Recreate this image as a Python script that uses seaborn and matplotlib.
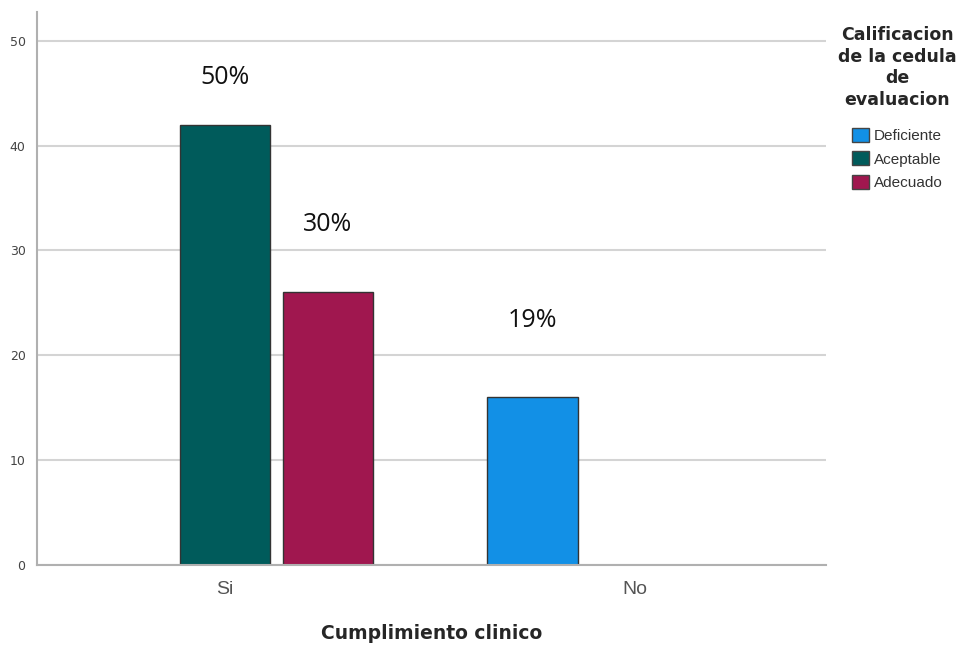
import seaborn as sns
import matplotlib.pyplot as plt
import pandas as pd

# datos
cumplimiento = ['Si', 'Si', 'No']
calificacion = ['Aceptable', 'Adecuado', 'Deficiente']
frecuencia = [42, 26, 16]
porcentajes = ['50%', '30%', '19%']

orden_cumplimiento = ['Si', 'No']
orden_calificacion = ['Deficiente', 'Aceptable', 'Adecuado']
colores = {'Deficiente': '#1290e6', 'Aceptable': '#005b5b', 'Adecuado': '#a0174f'}

df = pd.DataFrame({'cumplimiento': cumplimiento,
                   'calificacion': calificacion,
                   'frecuencia': frecuencia,
                   'porcentaje': porcentajes})

sns.set_style('white')
plt.rcParams['font.family'] = ['DejaVu Sans']

fig = plt.figure(figsize=(9.66, 6.46), dpi=100)
ax = fig.add_axes([0.038, 0.125, 0.817, 0.856])

sns.barplot(data=df, x='cumplimiento', y='frecuencia', hue='calificacion',
            order=orden_cumplimiento, hue_order=orden_calificacion,
            palette=colores, width=0.75, gap=0.12, edgecolor='#333333',
            linewidth=1, saturation=1, ax=ax)

ax.set_xlim(-0.46, 1.466)
ax.set_ylim(0, 52.7)
ax.set_yticks([0, 10, 20, 30, 40, 50])
ax.yaxis.grid(True, color='#d4d4d4', linewidth=1.5)
ax.set_axisbelow(True)

for side in ['top', 'right']:
    ax.spines[side].set_visible(False)
for side in ['left', 'bottom']:
    ax.spines[side].set_color('#b0b0b0')
    ax.spines[side].set_linewidth(1.5)

ax.tick_params(axis='both', length=0)
ax.tick_params(axis='y', labelsize=9, labelcolor='#444444', pad=8)
ax.tick_params(axis='x', labelsize=14, labelcolor='#555555', pad=11)
for t in ax.get_xticklabels():
    t.set_family(['Liberation Sans', 'DejaVu Sans'])

ax.set_ylabel('')
ax.set_xlabel('Cumplimiento clinico', fontsize=13.5, fontweight='bold', labelpad=19)

# etiquetas de porcentaje sobre cada barra
desplazamientos = [47, 68, 77]
for cont, nivel in zip(ax.containers, orden_calificacion):
    for barra in cont:
        h = barra.get_height()
        if pd.isna(h) or h == 0:
            continue
        i = calificacion.index(nivel)
        ax.annotate(porcentajes[i], (barra.get_x() + barra.get_width() / 2, h),
                    xytext=(0, desplazamientos[i] * 0.72), textcoords='offset points',
                    ha='center', va='center', fontsize=18,
                    family=['Open Sans', 'DejaVu Sans'], color='#111111')

leg = ax.legend(title='Calificacion\nde la cedula\nde\nevaluacion',
                loc='upper left', bbox_to_anchor=(0.998, 1.0), frameon=False,
                fontsize=11, title_fontsize=12.5, handlelength=1.1,
                handleheight=1.0, handletextpad=0.3, labelspacing=0.55,
                borderaxespad=0.5)
leg.get_title().set_fontweight('bold')
leg.get_title().set_multialignment('center')
leg.get_title().set_linespacing(1.25)
leg._legend_box.sep = 14
leg._legend_box.align = 'center'
for h in leg.legend_handles:
    h.set_edgecolor('#444444')
for t in leg.get_texts():
    t.set_family(['Liberation Sans', 'DejaVu Sans'])
    t.set_color('#333333')

fig.savefig('out.png', dpi=100)
